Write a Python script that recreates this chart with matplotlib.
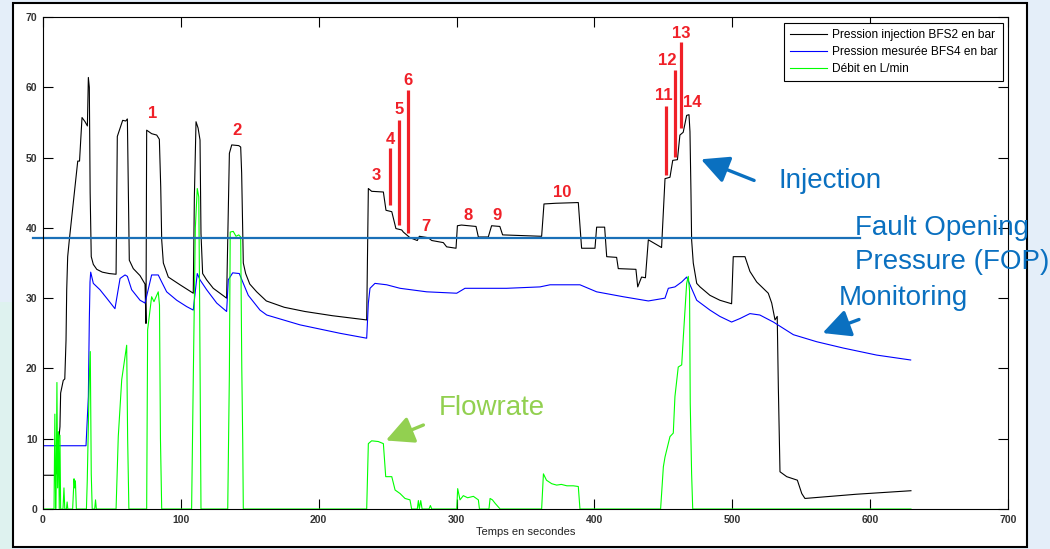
import matplotlib
matplotlib.use("Agg")
import matplotlib.pyplot as plt
from matplotlib.patches import Rectangle

plt.rcParams['font.family'] = ['Liberation Sans', 'DejaVu Sans']

# injection pressure BFS2 (bar) vs time (s)
inj_t = [0, 8.5, 9.5, 10.2, 10.8, 11.5, 12.3, 12.8, 14.7, 15.8, 16.7, 17.2, 17.9, 19.1, 20.3, 22.5,
         25.2, 26.5, 28.3, 30.5, 32.2, 32.9, 33.6, 34.2, 35, 36.5, 39, 43, 48, 53, 53.5, 53.9,
         55.9, 57.8, 60, 61.2, 61.9, 62.6, 65.5, 70.4, 74, 74.7, 75.2, 78.8, 82.5, 84.4, 85.4,
         86.1, 87.3, 90.9, 99.4, 109, 109.8, 111, 112.5, 113.9, 114.6, 115.8, 118.7, 123.5, 133.2,
         135.2, 136.9, 142, 143.4, 144.1, 145.3, 147, 150, 155, 162, 175, 190, 210, 234.8,
         236, 238.4, 246.9, 248.8, 253, 256, 260.2, 261.4, 266.2, 271.5, 273, 279.4, 282, 290.4,
         292.8, 299.6, 300.6, 303.5, 314.1, 315.8, 323, 325.4, 331.4, 333.4, 361.7, 363.4, 372,
         388.3, 390.7, 400.4, 401.6, 407.4, 408.9, 416.1, 417.3, 430.1, 431.4, 434.2, 437, 439.1,
         448.7, 451.2, 454.8, 456.8, 460.2, 462, 464.4, 466.9, 468.6, 469.3, 470, 470.5, 471.7,
         474.2, 476.6, 483.8, 491, 499.5, 500.7, 509.2, 512.8, 517.7, 526.1, 528.6, 531, 532.6,
         533.4, 534.6, 539.5, 547.2, 550.4, 552.7, 590, 629.6]
inj_p = [4.8, 4.8, 5, 10.5, 7, 10, 11.7, 16.5, 18.3, 18.5, 24, 31.2, 35.9, 38.3, 40.5, 44.4,
         49.5, 49.5, 55.7, 55.1, 54.5, 61.4, 60, 45, 35.9, 34.8, 34.1, 33.7, 33.5, 33.4, 45, 53,
         54.2, 55.3, 55.2, 55.5, 45.8, 35.4, 34.2, 33.2, 32, 26.4, 53.9, 53.4, 53.2, 52.6, 45.8,
         38.3, 35, 33, 31.9, 30.7, 44.4, 55.1, 54.2, 52.5, 39.2, 33.5, 32.6, 31.4, 30,
         50.6, 51.8, 51.7, 51.5, 47.8, 35, 33.5, 32, 30.9, 29.6, 28.7, 28.1, 27.5, 26.9,
         45.6, 45.2, 45.1, 42.5, 42.3, 39.9, 39.7, 39.4, 38.6, 38.2, 38.8, 38.6, 38.2, 37.9,
         37.3, 37.1, 40.3, 40.4, 40.2, 38.7, 38.7, 40.3, 40.2, 39.0, 38.8, 43.4, 43.5,
         43.6, 37.1, 37.1, 40.1, 40.1, 35.9, 35.8, 34.2, 34.1, 31.6, 33, 32.9, 38.3,
         37.2, 47, 47.2, 49.6, 49.7, 53.2, 53.6, 56, 56.1, 53.7, 45.4, 38.3, 35,
         32.1, 31.6, 30.4, 29.7, 29.2, 35.9, 35.9, 33.8, 32.3, 30.7, 29.3, 26.9, 27.4,
         17.4, 5.3, 4.6, 4.1, 2.2, 1.5, 2.1, 2.6]

# measured pressure BFS4 (bar)
mon_t = [0, 31.2, 32.9, 33.6, 34.1, 34.6, 36.5, 41.3, 46.2, 52.2, 55.9, 59.5, 61.2, 64.3, 70.4,
         74, 78.8, 83.6, 86.1, 89.7, 97, 104.2, 109, 111.9, 113.9, 118.7, 126, 133.2, 134.4,
         137.6, 142.4, 145.3, 148.9, 157.4, 162.3, 186.4, 215.4, 234.8, 236, 237.2, 240.8,
         249.3, 259, 278.3, 300.1, 306.1, 336.3, 360.5, 367.8, 389.5, 401.6, 420.9, 439.1,
         451.2, 453.6, 458.4, 463.3, 466.9, 474.2, 483.8, 491, 499.5, 505.6, 512.8, 520,
         529.8, 544.3, 561.2, 580.5, 604.7, 629.4]
mon_p = [9, 9, 16, 26.9, 32.3, 33.7, 32.1, 31.2, 30, 28.5, 32.8, 33.3, 33.1, 31.2, 29.7,
         29.3, 33.3, 33.3, 32.3, 30.9, 29.7, 28.8, 28.3, 33.5, 32.6, 31.2, 29.3, 28.1, 32.6,
         33.6, 33.5, 32.1, 30.4, 28.3, 27.6, 26.2, 25, 24.3, 29.3, 31.4, 32.1,
         31.9, 31.4, 30.9, 30.7, 31.4, 31.4, 31.6, 31.9, 31.9, 30.9, 30.2, 29.6,
         30, 31.4, 31.6, 32.3, 33, 29.7, 28.3, 27.4, 26.6, 27.1, 27.8, 27.6,
         26.6, 24.8, 23.8, 22.9, 21.9, 21.2]

# flow rate (L/min)
deb_t = [0, 8, 8.6, 9.2, 9.6, 10.1, 10.6, 11.2, 11.8, 12.3, 12.8, 14.5, 15.2, 15.8, 17, 17.5,
         18, 21.5, 22.5, 23, 23.5, 24.2, 31.5, 32.1, 33.6, 34.3, 35, 35.7, 37.5, 38.1, 38.7,
         53, 54.6, 57.1, 60.7, 61.4, 62.3, 75.2, 75.9, 78.8, 80.5, 83.6, 84.5, 85.2, 86.1,
         107.8, 109, 110.5, 111.9, 113, 113.6, 114.6, 134, 135.2, 135.8, 138, 140, 142, 143.4,
         144.2, 144.9, 145.3, 234.8, 236, 238.4, 243.2, 246.9, 248.6, 253, 255.4, 259, 262.6,
         266.2, 267.4, 271.5, 272.3, 273, 274, 275, 280, 281, 282, 300.1, 300.8, 302.5, 304.9,
         308, 312.2, 315.8, 316.6, 323.5, 324.3, 326, 328, 331.6, 361.7, 363, 365.2, 369,
         372.6, 376, 380, 384.7, 388.3, 389.5, 448, 450, 451.2, 454.8, 457.2, 458.4, 460.8,
         463.3, 464.5, 466.9, 468.1, 469, 469.5, 470.5, 471.3, 629.6]
deb_q = [0, 0, 13.5, 0, 4, 18, 3, 11, 0, 10.5, 0, 0, 3, 0, 0, 1,
         0, 0, 4.3, 3, 4, 0, 0, 4, 18.8, 22.4, 5, 0, 0, 1.3, 0,
         0, 10.3, 18.4, 23.3, 10, 0, 0, 25.5, 30.2, 29.5, 30.9, 29, 10, 0,
         0, 18.4, 40, 45.6, 44.4, 30, 0, 0, 19.3, 39.4, 39.5, 38.8, 39.0, 38.7,
         20, 9.3, 0, 0, 9.3, 9.7, 9.6, 9.3, 4.6, 4.6, 2.7, 2.2, 1.5,
         1.3, 0, 0, 1.2, 0, 1.2, 0, 0, 0.5, 0, 0, 2.9, 1.3, 1.9,
         1.6, 1.8, 1.3, 0, 0, 1.5, 1.3, 0.8, 0, 0, 5, 4.1, 3.6,
         3.4, 3.5, 3.3, 3.3, 3.2, 0, 0, 6, 7.4, 10.3, 10.8, 16, 20.2,
         20.5, 24.5, 32.1, 33.1, 31, 15, 5, 0, 0]

# numbered injection steps
step_names = [str(i) for i in range(1, 15)]
step_t = [79.8, 140.7, 241.5, 251.7, 258.2, 264.5, 277.6, 308.5, 329.1, 376.7, 450, 453.1, 463.3, 470.8]
step_p = [56.2, 53.9, 47.4, 52.5, 56.8, 61.0, 40.2, 41.8, 41.8, 45.0, 58.9, 63.8, 67.7, 57.8]
mark_t = [251.7, 258.5, 264.5, 451.9, 458.7, 462.5]
mark_lo = [43.2, 40.4, 39.2, 47.5, 50.1, 54.2]
mark_hi = [51.3, 55.3, 59.6, 57.3, 62.5, 66.4]

fop = 38.5

fig = plt.figure(figsize=(10.5, 5.49), dpi=100)
fig.patch.set_facecolor('#e4eef9')
# slide background, a bit greener lower left
fig.patches.append(Rectangle((0, 0), 13 / 1050, 0.45, transform=fig.transFigure,
                             facecolor='#def2ef', edgecolor='none', zorder=-11))
fig.patches.append(Rectangle((13 / 1050, 2 / 549), 1014 / 1050, 544 / 549, transform=fig.transFigure,
                             facecolor='white', edgecolor='black', lw=1.5, zorder=-10))
ax = fig.add_axes([43 / 1050, 40 / 549, 965 / 1050, 492 / 549])

ax.plot(inj_t, inj_p, color='k', lw=0.8, label='Pression injection BFS2 en bar')
ax.plot(mon_t, mon_p, color='#0000ff', lw=0.8, label='Pression mesurée BFS4 en bar')
ax.plot(deb_t, deb_q, color='#00ff00', lw=0.8, label='Débit en L/min')

ax.set_xlim(0, 700)
ax.set_ylim(0, 70)
ax.set_xticks(range(0, 701, 100))
ax.set_yticks(range(0, 71, 10))
ax.tick_params(direction='in', length=7, width=0.8, top=True, right=True,
               labelsize=7.5, labelcolor='#333333', pad=4)
for lab in ax.get_xticklabels() + ax.get_yticklabels():
    lab.set_fontweight('bold')
for sp in ax.spines.values():
    sp.set_linewidth(0.8)
ax.set_xlabel('Temps en secondes', fontsize=8, color='#222222', labelpad=2)

leg = ax.legend(loc='upper right', bbox_to_anchor=(0.9948, 0.9878), borderaxespad=0,
                fancybox=False, edgecolor='black', framealpha=1, fontsize=8.6,
                handlelength=3.1, handletextpad=0.35, labelspacing=0.43, borderpad=0.5)
leg.get_frame().set_linewidth(0.8)

# fault opening pressure
ax.plot([-7.5, 593], [fop, fop], color='#1a70b8', lw=1.6, clip_on=False)

# step markers
red = '#f02028'
ax.vlines(mark_t, mark_lo, mark_hi, color=red, lw=2.3)
for name, x, y in zip(step_names, step_t, step_p):
    ax.text(x, y, name, color=red, fontsize=12, fontweight='bold', ha='center', va='center')

arrow = '-|>,head_length=0.6,head_width=0.3'
blue = '#0a70c0'
ax.text(533.2, 45.6, 'Injection', color=blue, fontsize=20, va='baseline')
ax.annotate('', xy=(475.4, 49.9), xytext=(517.7, 46.6),
            arrowprops=dict(arrowstyle=arrow, color=blue, lw=2.4, mutation_scale=28))
ax.text(589, 39.0, 'Fault Opening', color=blue, fontsize=20, va='baseline')
ax.text(589, 34.1, 'Pressure (FOP)', color=blue, fontsize=20, va='baseline')
ax.text(577.4, 29.0, 'Monitoring', color=blue, fontsize=20, va='baseline')
ax.annotate('', xy=(563.6, 24.9), xytext=(593.8, 27.1),
            arrowprops=dict(arrowstyle=arrow, color=blue, lw=2.4, mutation_scale=28))

green = '#92d050'
ax.text(286.8, 13.4, 'Flowrate', color=green, fontsize=20, va='baseline')
ax.annotate('', xy=(246.8, 9.6), xytext=(277.8, 12.1),
            arrowprops=dict(arrowstyle=arrow, color=green, lw=2.4, mutation_scale=28))

fig.savefig('out.png', dpi=100, facecolor=fig.get_facecolor())
